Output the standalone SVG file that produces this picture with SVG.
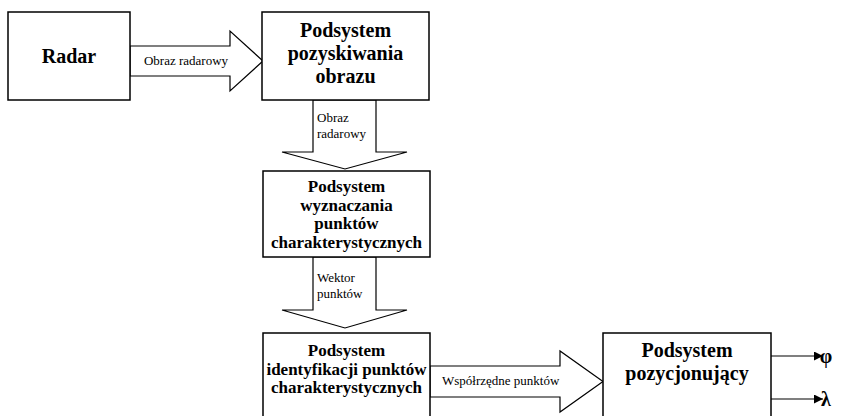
<svg xmlns="http://www.w3.org/2000/svg" width="843" height="416" viewBox="0 0 843 416">
<defs>
<style>
.box{fill:#fff;stroke:#000;stroke-width:1.5}
.arr{fill:#fff;stroke:#000;stroke-width:1.2;stroke-linejoin:miter}
.t{font-family:'Liberation Serif','DejaVu Serif',serif;font-weight:bold;fill:#000;text-anchor:middle}
.l{font-family:'Liberation Serif','DejaVu Serif',serif;font-size:13px;fill:#000}
.ln{stroke:#000;stroke-width:1.2;fill:none}
</style>
<marker id="ah" viewBox="0 0 10 10" refX="10" refY="5" markerWidth="9" markerHeight="9" markerUnits="userSpaceOnUse" orient="auto">
<path d="M0,0 L10,5 L0,10 Z" fill="#000"/>
</marker>
</defs>
<rect width="843" height="416" fill="#fff"/>
<g id="connectors">
<polygon class="arr" points="130,46 230,46 230,31 263,61 230,91 230,76 130,76"/>
<text class="l" x="186" y="65" text-anchor="middle" font-size="13.5">Obraz radarowy</text>
<polygon class="arr" points="313,100 376,100 376,152 407,152 345,169 282,152 313,152"/>
<text class="l" x="317" y="122">Obraz</text>
<text class="l" x="317" y="138">radarowy</text>
<polygon class="arr" points="313,257 376,257 376,310 407,310 345,328 282,310 313,310"/>
<text class="l" x="317" y="282">Wektor</text>
<text class="l" x="317" y="298">punktów</text>
<polygon class="arr" points="430,366 560,366 560,351 603,381.5 560,412 560,397 430,397"/>
<text class="l" x="442" y="385" font-size="13.5">Współrzędne punktów</text>
<line class="ln" x1="771" y1="356" x2="823" y2="356" marker-end="url(#ah)"/>
<line class="ln" x1="771" y1="399" x2="823" y2="399" marker-end="url(#ah)"/>
<text class="t" x="826" y="363" font-size="20" text-anchor="start">φ</text>
<text class="t" x="826" y="406" font-size="20" text-anchor="start">λ</text>
</g>
<g id="radar">
<rect class="box" x="8" y="12" width="122" height="88"/>
<text class="t" x="69" y="63" font-size="20">Radar</text>
</g>
<g id="pozyskiwanie">
<rect class="box" x="262" y="12" width="167" height="88"/>
<text class="t" x="345.5" y="37" font-size="20">Podsystem</text>
<text class="t" x="345.5" y="60" font-size="20">pozyskiwania</text>
<text class="t" x="345.5" y="83" font-size="20">obrazu</text>
</g>
<g id="wyznaczanie">
<rect class="box" x="263" y="171" width="167" height="86"/>
<text class="t" x="346.5" y="192" font-size="17">Podsystem</text>
<text class="t" x="346.5" y="211" font-size="17">wyznaczania</text>
<text class="t" x="346.5" y="229" font-size="17">punktów</text>
<text class="t" x="346.5" y="248" font-size="17">charakterystycznych</text>
</g>
<g id="identyfikacja">
<rect class="box" x="263" y="333" width="167" height="90"/>
<text class="t" x="346.5" y="356" font-size="17">Podsystem</text>
<text class="t" x="346.5" y="375" font-size="17">identyfikacji punktów</text>
<text class="t" x="346.5" y="393" font-size="17">charakterystycznych</text>
</g>
<g id="pozycjonowanie">
<rect class="box" x="603" y="333" width="168" height="90"/>
<text class="t" x="687" y="357" font-size="20">Podsystem</text>
<text class="t" x="687" y="380" font-size="20">pozycjonujący</text>
</g>
</svg>
